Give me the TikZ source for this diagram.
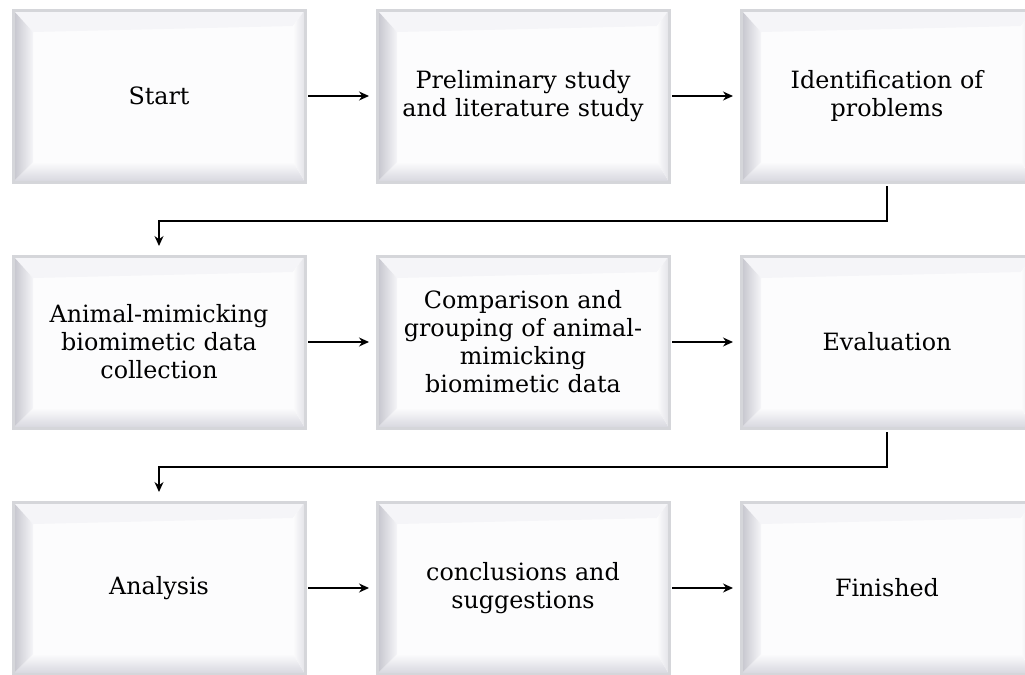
\documentclass[tikz,border=0pt]{standalone}
\usepackage{fontspec}
\setmainfont{DejaVu Serif}
\usetikzlibrary{calc,arrows.meta}
\usetikzlibrary{positioning}
\definecolor{boxfill}{HTML}{FCFCFD}
\definecolor{boxrim}{HTML}{D5D6DA}
\definecolor{bevdark}{HTML}{C4C4CC}
\definecolor{bevmid}{HTML}{D6D6DE}
\definecolor{bevlight}{HTML}{F5F5F8}
\tikzset{>={Stealth[length=5pt,width=4.5pt]},
  stepbox/.style = {rectangle, draw=boxrim, line width=1.5pt, fill=boxfill,
    minimum width=146pt, minimum height=86pt, text width=140pt, align=center,
    inner sep=0pt, outer sep=0pt,
    font=\fontsize{11.9}{14}\selectfont,
    path picture={
      \coordinate (nw) at (path picture bounding box.north west);
      \coordinate (ne) at (path picture bounding box.north east);
      \coordinate (sw) at (path picture bounding box.south west);
      \coordinate (se) at (path picture bounding box.south east);
      % top, right, bottom, left bevels
      \fill[bevlight] (nw) -- (ne) -- ($(ne)+(-6pt,-8pt)$) -- ($(nw)+(10pt,-11pt)$) -- cycle;
      \fill[left color=boxfill, right color=bevmid!70] (ne) -- (se) -- ($(se)+(-6pt,10pt)$) -- ($(ne)+(-6pt,-8pt)$) -- cycle;
      \fill[top color=boxfill, bottom color=bevmid] (sw) -- (se) -- ($(se)+(-6pt,10pt)$) -- ($(sw)+(10pt,10pt)$) -- cycle;
      \fill[left color=bevdark, right color=bevlight] (sw) -- (nw) -- ($(nw)+(10pt,-11pt)$) -- ($(sw)+(10pt,10pt)$) -- cycle;
    }},
  link/.style = {->, line width=0.65pt, shorten <=1.5pt, shorten >=4pt}
}

\begin{document}
\begin{tikzpicture}[x=0.5pt, y=-0.5pt]
  \useasboundingbox (0,0) rectangle (1025,675);
  \clip (0,0) rectangle (1025,675);
  % first row
  \node[stepbox] (start) at (159,96) {Start};
  \node[stepbox, right=36pt of start] (prelim) {Preliminary study\\and literature study};
  \node[stepbox, right=36pt of prelim] (probl) {Identification of\\problems};
  % second row
  \node[stepbox, below=37pt of start] (anim) {Animal-mimicking\\biomimetic data\\collection};
  \node[stepbox, right=36pt of anim] (group) {Comparison and\\grouping of animal-\\mimicking\\biomimetic data};
  \node[stepbox, right=36pt of group] (eval) {Evaluation};
  % third row
  \node[stepbox, below=37pt of anim] (analys) {Analysis};
  \node[stepbox, right=36pt of analys] (concl) {conclusions and\\suggestions};
  \node[stepbox, right=36pt of concl] (finish) {Finished};

  \draw[link] (start) -- (prelim);
  \draw[link] (prelim) -- (probl);
  \draw[link, shorten <=2pt, shorten >=5pt] (probl.south) -- ++(0,-19.5pt) -| (anim.north);
  \draw[link] (anim) -- (group);
  \draw[link] (group) -- (eval);
  \draw[link, shorten <=2pt, shorten >=5pt] (eval.south) -- ++(0,-19.5pt) -| (analys.north);
  \draw[link] (analys) -- (concl);
  \draw[link] (concl) -- (finish);
\end{tikzpicture}
\end{document}
